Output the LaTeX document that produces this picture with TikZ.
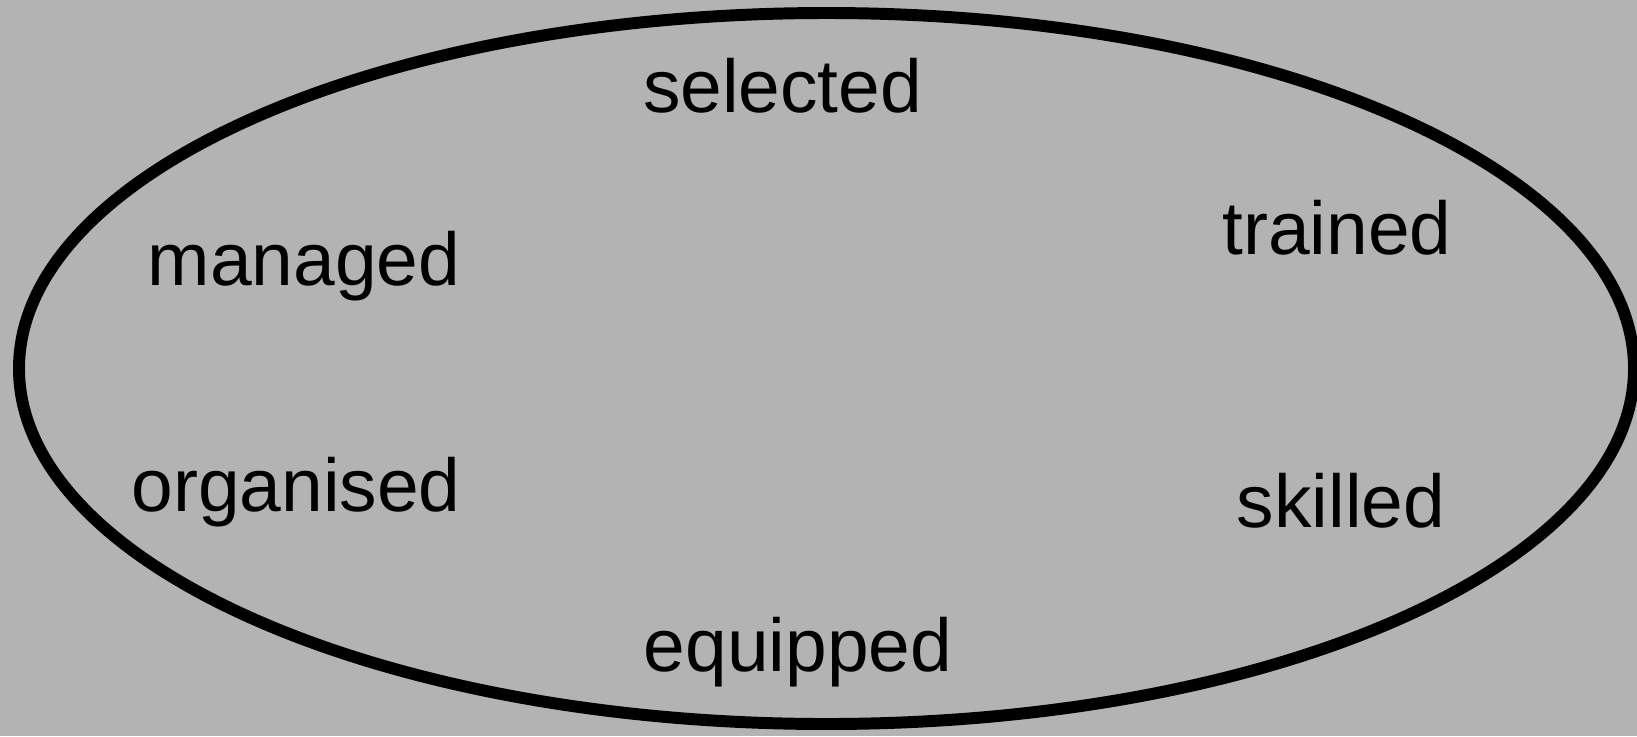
\documentclass[tikz,border=0pt]{standalone}
\usepackage{fontspec}
\setmainfont{Liberation Sans}
\definecolor{bggray}{RGB}{179,179,179}
\tikzset{word/.style = {anchor = base, inner sep = 0, font = \fontsize{21.3}{25}\selectfont}}
\tikzset{ring/.style = {line width = 3.4pt}}

\begin{document}
\begin{tikzpicture}[x = 0.01cm, y = -0.01cm]
    \fill [bggray] (0,0) rectangle (1637,736);
    \useasboundingbox (0,0) rectangle (1637,736);
    \draw [ring] (826.5,368.5) ellipse [x radius = 807.5, y radius = 355.5];
	\node [word] (selected) at (782.5,112) {selected};
	\node [word] (trained) at (1337,254) {trained};
	\node [word] (managed) at (304,285) {managed};
	\node [word] (organised) at (296,511) {organised};
	\node [word] (skilled) at (1341,527) {skilled};
	\node [word] (equipped) at (798,671) {equipped};
  \end{tikzpicture}
\end{document}
